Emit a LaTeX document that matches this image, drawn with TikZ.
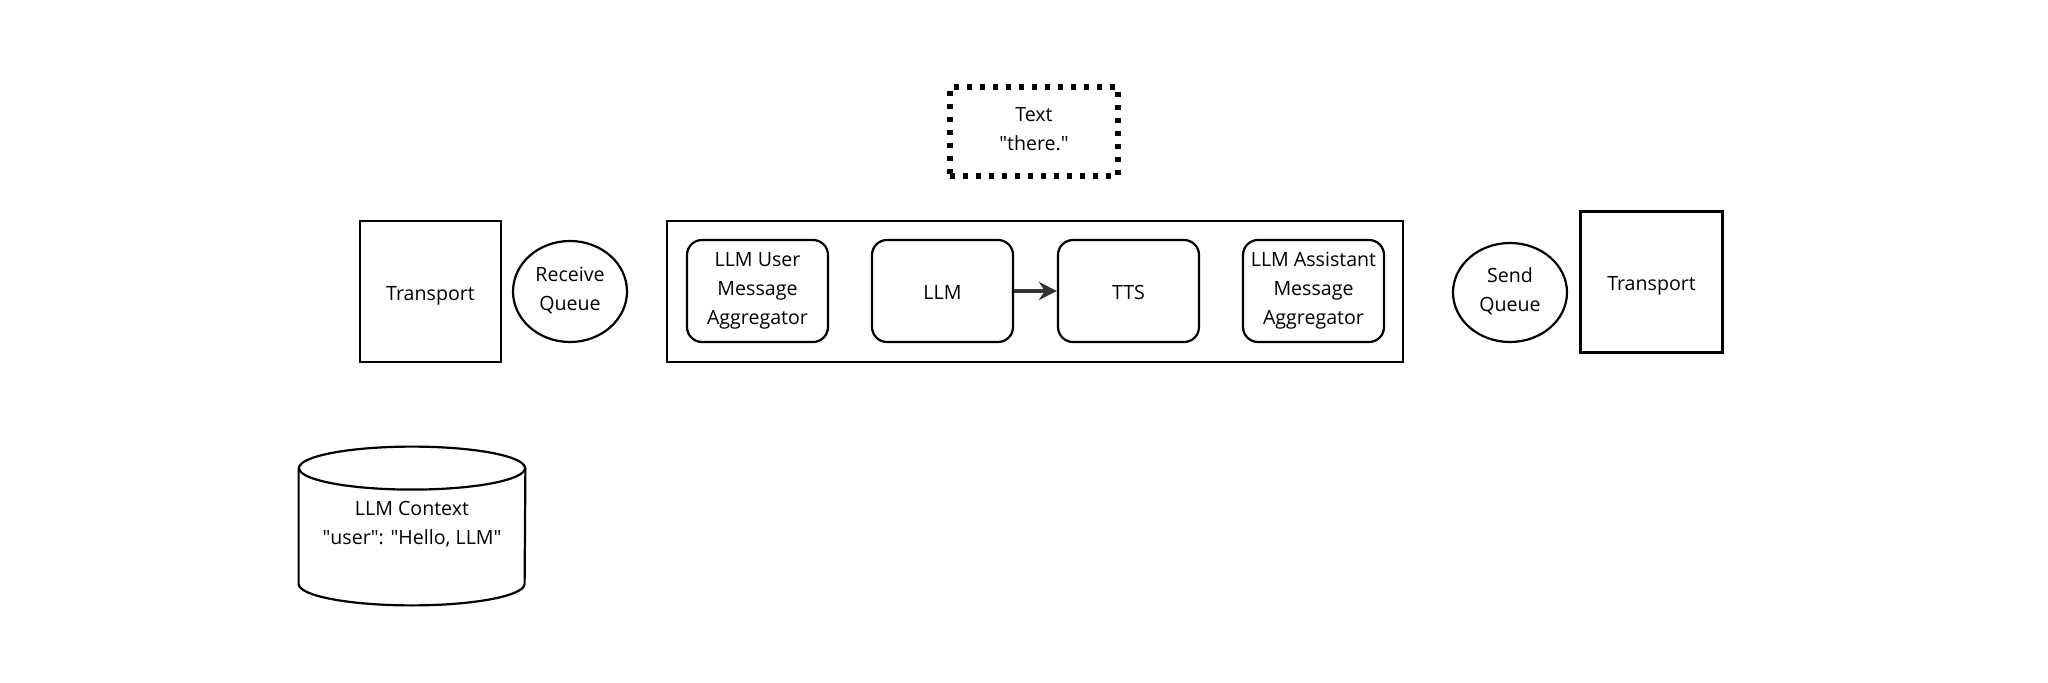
\documentclass[tikz,border=0pt]{standalone}
\usepackage{fontspec}
\setmainfont{Open Sans}
\usepackage{tikz}
\usetikzlibrary{positioning, calc, shapes.geometric, arrows.meta}
\newcommand{\linestrut}{\rule[-2.7pt]{0pt}{14.4pt}}

\begin{document}
\begin{tikzpicture}[x = 0.5pt, y = -0.5pt,
        font = \fontsize{9.8}{14.4}\selectfont,
        execute at begin node = \linestrut, execute at end node = \linestrut,
        box/.style = {draw, rectangle, line width = 1.1pt, align = center},
        stage/.style = {box, rounded corners = 7.5pt, minimum width = 70.5 pt,
        minimum height = 51 pt},
        queue/.style = {draw, ellipse, line width = 1.1pt, align = center,
        inner sep = 0pt, minimum width = 57 pt, minimum height = 50.5 pt},
        frame/.style = {draw, rectangle, line width = 2.7pt, dash pattern = on
        2.6pt off 3.9pt, align = center},
        drum/.style = {line width = 1.1pt, x radius = 56.5pt, y radius =
        10.75pt}]
        \useasboundingbox (0,0) rectangle (2048,683);
        \node (frame) [frame, minimum width = 84 pt, minimum height = 44.5 pt]
        (txt) at (1034,131.5) {Text\\\textquotedbl there.\textquotedbl};
        \node (rectangle) [box, minimum width = 70.5 pt, minimum height = 70.5
        pt] (transL) at (430.5,291.5) {Transport};
        \node [queue] (recvQ) at (570,291.5) {Receive\\Queue};
        \node [box, minimum width = 368 pt, minimum height = 70.5 pt] (pipe)
        at (1035,291.5) {};
        \node [stage] (userAgg) at (757.5,291) {LLM User\\Message\\Aggregator};
        \node [stage] (llm) at (942.5,291) {LLM};
        \node [stage] (tts) at (1128.5,291) {TTS};
        \node [stage] (asstAgg) at (1313.5,291)
        {LLM Assistant\\Message\\Aggregator};
        \draw [-{Stealth[length = 9pt, width = 9pt]}, line width = 1.6pt,
        black!80] (llm) -- (tts);
        \node [queue, minimum height = 49.5 pt] (sendQ) at (1510,292.5)
        {Send\\Queue};
        \node [box, minimum width = 71 pt, minimum height = 70.5 pt] (transR)
        at (1651.5,282) {Transport};
        \node [align = center, minimum width = 113 pt, minimum height = 79 pt]
        (ctx) at (412,526) {LLM Context\\\textquotedbl user\textquotedbl:
        \textquotedbl Hello, LLM\textquotedbl};
        \draw [drum] ($(ctx.north) + (0,-10.75pt)$) ellipse [];
        \draw [drum] ($(ctx.north west) + (0,-10.75pt)$) -- ($(ctx.south west)
        + (0,10.75pt)$) arc [start angle = 180, end angle = 360] --
        ($(ctx.north east) + (0,-10.75pt)$);
    \end{tikzpicture}
\end{document}
